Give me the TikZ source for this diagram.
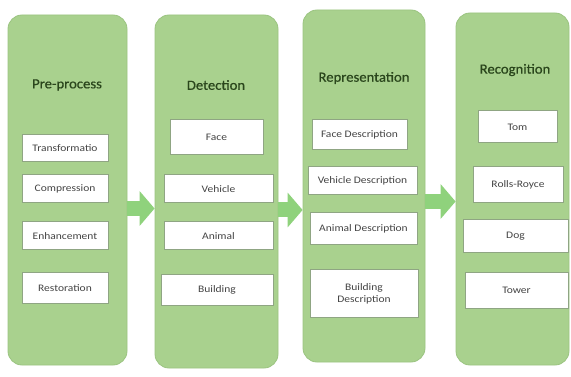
\documentclass[tikz,border=0pt]{standalone}
\usepackage{fontspec}
\setmainfont{Carlito}
\newfontfamily\itemfont[FakeStretch=1.15]{Carlito}
\newfontfamily\titlefont[FakeStretch=1.05,FakeBold=0.6]{Carlito}
\usetikzlibrary{arrows.meta}
\definecolor{colfill}{HTML}{A9D18E}
\definecolor{colline}{HTML}{9BC481}
\definecolor{arrowcol}{HTML}{8FD27C}
\definecolor{titlecol}{HTML}{2A461C}
\definecolor{boxline}{HTML}{8FA583}
\definecolor{boxtext}{HTML}{444444}
\tikzset{
  colbox/.style={draw=colline, line width=0.8pt, fill=colfill, rounded corners=14pt, inner sep=0pt},
  title/.style={text=titlecol, font=\titlefont\fontsize{14}{16}\selectfont},
  item/.style={draw=boxline, line width=1pt, fill=white, inner sep=1pt, align=center,
    text=boxtext, font=\itemfont\fontsize{10}{12}\selectfont},
  blockarrow/.style={color=arrowcol, line width=15pt,
    -{Triangle[length=15pt,width=34pt]}}
}
\begin{document}
\begin{tikzpicture}[x=1pt,y=-1pt]
\useasboundingbox[fill=white] (0,0) rectangle (571,377);
% columns
\node[colbox, minimum width=119pt, minimum height=350pt] (c1) at (67.5,190) {};
\node[colbox, minimum width=123pt, minimum height=353pt] (c2) at (216.5,191.5) {};
\node[colbox, minimum width=122pt, minimum height=352pt] (c3) at (364,186) {};
\node[colbox, minimum width=113pt, minimum height=352pt] (c4) at (512.5,189) {};
% titles
\node[title] (t1) at (67,85) {Pre-process};
\node[title] (t2) at (216,85) {Detection};
\node[title] (t3) at (364,78) {Representation};
\node[title] (t4) at (515,70) {Recognition};
% column 1
\node[item, minimum width=86pt, minimum height=27pt] (p1) at (65,148.5) {Transformatio};
\node[item, minimum width=86pt, minimum height=28pt] (p2) at (65,189) {Compression};
\node[item, minimum width=86pt, minimum height=28pt] (p3) at (65,236) {Enhancement};
\node[item, minimum width=86pt, minimum height=30pt] (p4) at (65,288) {Restoration};
% column 2
\node[item, minimum width=93pt, minimum height=35pt] (d1) at (216.5,137.5) {Face};
\node[item, minimum width=109pt, minimum height=28pt] (d2) at (218.5,189) {Vehicle};
\node[item, minimum width=109pt, minimum height=28pt] (d3) at (218.5,236) {Animal};
\node[item, minimum width=112pt, minimum height=30pt] (d4) at (217,290) {Building};
% column 3
\node[item, minimum width=95pt, minimum height=30pt] (r1) at (359.5,135) {Face Description};
\node[item, minimum width=109pt, minimum height=28pt] (r2) at (362.5,181) {Vehicle Description};
\node[item, minimum width=107pt, minimum height=32pt] (r3) at (363.5,229) {Animal Description};
\node[item, minimum width=108pt, minimum height=47pt] (r4) at (364,293.5) {Building\\Description};
% column 4
\node[item, minimum width=79pt, minimum height=32pt] (g1) at (517.5,127) {Tom};
\node[item, minimum width=90pt, minimum height=36pt] (g2) at (518,185) {Rolls-Royce};
\node[item, minimum width=105pt, minimum height=33pt] (g3) at (515.5,236.5) {Dog};
\node[item, minimum width=103pt, minimum height=35pt] (g4) at (516.5,290.5) {Tower};
% arrows
\coordinate (a1) at (0,208.5);
\coordinate (a2) at (0,210);
\coordinate (a3) at (0,201.5);
\draw[blockarrow] (c1.east |- a1) -- (c2.west |- a1);
\draw[blockarrow] (c2.east |- a2) -- (c3.west |- a2);
\draw[blockarrow] (c3.east |- a3) -- (c4.west |- a3);
\end{tikzpicture}
\end{document}
